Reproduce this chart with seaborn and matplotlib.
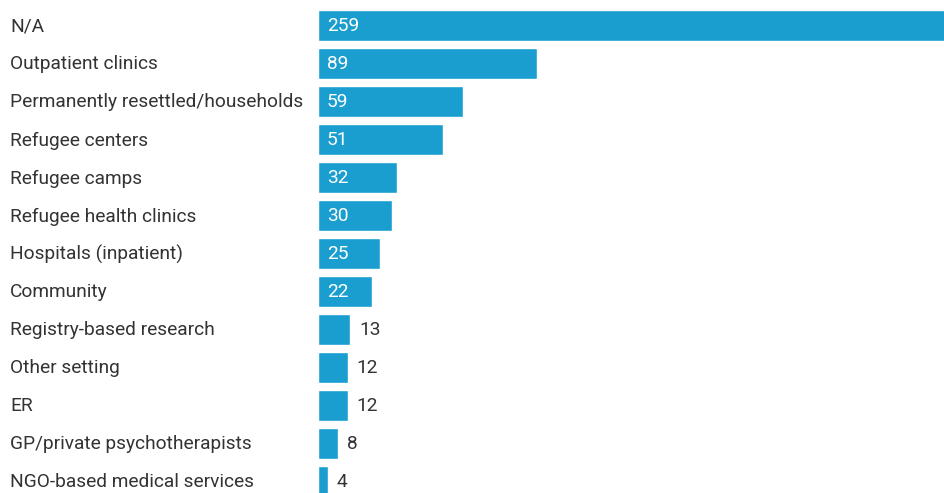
import pandas as pd
import seaborn as sns
import matplotlib.pyplot as plt

# Study settings and counts
settings = ['N/A', 'Outpatient clinics', 'Permanently resettled/households',
            'Refugee centers', 'Refugee camps', 'Refugee health clinics',
            'Hospitals (inpatient)', 'Community', 'Registry-based research',
            'Other setting', 'ER', 'GP/private psychotherapists',
            'NGO-based medical services']
counts = [259, 89, 59, 51, 32, 30, 25, 22, 13, 12, 12, 8, 4]

df = pd.DataFrame({'setting': settings, 'count': counts})

sns.set_style('white')
plt.rcParams['font.family'] = ['Roboto', 'DejaVu Sans']

fig = plt.figure(figsize=(9.44, 4.93), dpi=100)
ax = fig.add_axes([318 / 944, 0, 1 - 318 / 944, 1])

sns.barplot(data=df, y='setting', x='count', orient='h', color='#1A9ED0',
            saturation=1, width=31 / 38, ax=ax)

# axes spans full figure height; row pitch 38px, first row centre 25.5px from top
ax.set_ylim((493 - 25.5) / 38, -25.5 / 38)
ax.set_xlim(0, (944 - 318) / 2.46)
ax.axis('off')

fs = 13.8
for i, (name, v) in enumerate(zip(settings, counts)):
    ax.annotate(name, xy=(10 / 944, i), xycoords=('figure fraction', 'data'),
                xytext=(0, -0.7), textcoords='offset points',
                va='center', ha='left', fontsize=fs, color='#333333')
    if v >= 20:
        ax.annotate(str(v), xy=(0, i), xytext=(6.5, -0.7), textcoords='offset points',
                    va='center', ha='left', fontsize=fs, color='white')
    else:
        ax.annotate(str(v), xy=(v, i), xytext=(6.5, -0.7), textcoords='offset points',
                    va='center', ha='left', fontsize=fs, color='#333333')

plt.savefig('out.png', dpi=100)
